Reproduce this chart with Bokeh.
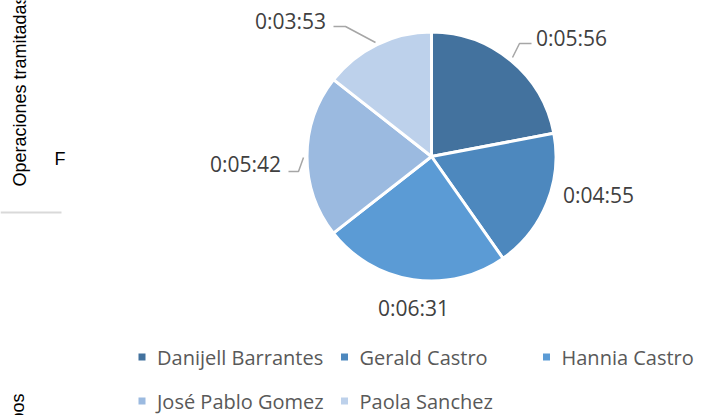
import math
from bokeh.plotting import figure
from bokeh.models import Range1d, ColumnDataSource
from bokeh.core.properties import value
from bokeh.embed import file_html
from bokeh.resources import INLINE

# ---- data ----
names = ["Danijell Barrantes", "Gerald Castro", "Hannia Castro", "José Pablo Gomez", "Paola Sanchez"]
times = ["0:05:56", "0:04:55", "0:06:31", "0:05:42", "0:03:53"]
colors = ["#43729E", "#4D88BE", "#5B9BD5", "#9BBAE0", "#BDD1EB"]

# ---- layout (picture pixel coordinates, y measured from top) ----
W, H = 712, 415
CX, CY, R = 431, 156, 124.5
label_pos = [(571, 37), (598, 194), (413, 307), (245, 163), (290, 20)]
leaders = [
    [(531, 43), (519, 43), (512, 57)],
    None,
    None,
    [(288, 171), (298, 171), (303, 157)],
    [(333, 26), (345, 26), (375, 42)],
]
legend_rows = [(356.5, [0, 1, 2]), (400.5, [3, 4])]
legend_cols = [141.5, 344, 546]


def fy(y):
    return H - y


secs = []
for t in times:
    h, m, s = (int(v) for v in t.split(":"))
    secs.append(h * 3600 + m * 60 + s)
total = sum(secs)

starts, ends = [], []
acc = 0
for s in secs:
    starts.append(math.pi / 2 - 2 * math.pi * acc / total)
    acc += s
    ends.append(math.pi / 2 - 2 * math.pi * acc / total)

p = figure(width=W, height=H, x_range=Range1d(0, W), y_range=Range1d(0, H),
           output_backend="svg", toolbar_location=None, min_border=0,
           x_axis_location=None, y_axis_location=None)
p.xgrid.visible = False
p.ygrid.visible = False
p.outline_line_color = None
p.background_fill_color = "white"
p.border_fill_color = "white"

src = ColumnDataSource(dict(start=starts, end=ends, color=colors, name=names))
p.wedge(x=CX, y=fy(CY), radius=R, start_angle="start", end_angle="end", direction="clock",
        fill_color="color", line_color="white", line_width=3, source=src)

# leader lines
for ld in leaders:
    if ld:
        p.line([q[0] for q in ld], [fy(q[1]) for q in ld], line_color="#A6A6A6", line_width=1.5)

# data labels
p.text(x=[q[0] for q in label_pos], y=[fy(q[1]) for q in label_pos], text=times,
       text_font=value("Open Sans"), text_font_size="21px", text_color="#404040",
       text_align="center", text_baseline="middle")

# legend
lx, ly, lc, ln = [], [], [], []
for ry, idxs in legend_rows:
    for col, i in enumerate(idxs):
        lx.append(legend_cols[col])
        ly.append(fy(ry))
        lc.append(colors[i])
        ln.append(names[i])
p.rect(x=lx, y=ly, width=7, height=7, fill_color=lc, line_color=None)
p.text(x=[x + 15 for x in lx], y=ly, text=ln, text_font=value("Open Sans"), text_font_size="20px",
       text_color="#595959", text_align="left", text_baseline="middle")

# fragments of neighbouring chart at the left edge
p.text(x=[19], y=[fy(186)], text=["Operaciones tramitadas"], angle=math.pi / 2,
       text_font=value("Liberation Sans"), text_font_size="18px", text_color="#000000",
       text_align="left", text_baseline="alphabetic")
p.text(x=[54], y=[fy(158)], text=["F"], text_font=value("Liberation Sans"), text_font_size="18px",
       text_color="#000000", text_align="left", text_baseline="middle")
p.line([0, 61], [fy(212), fy(212)], line_color="#D9D9D9", line_width=2)
p.text(x=[17], y=[fy(393)], text=["Tiempos"], angle=math.pi / 2,
       text_font=value("Liberation Sans"), text_font_size="18px", text_color="#000000",
       text_align="right", text_baseline="alphabetic")

open("out.html", "w").write(file_html(p, INLINE))
